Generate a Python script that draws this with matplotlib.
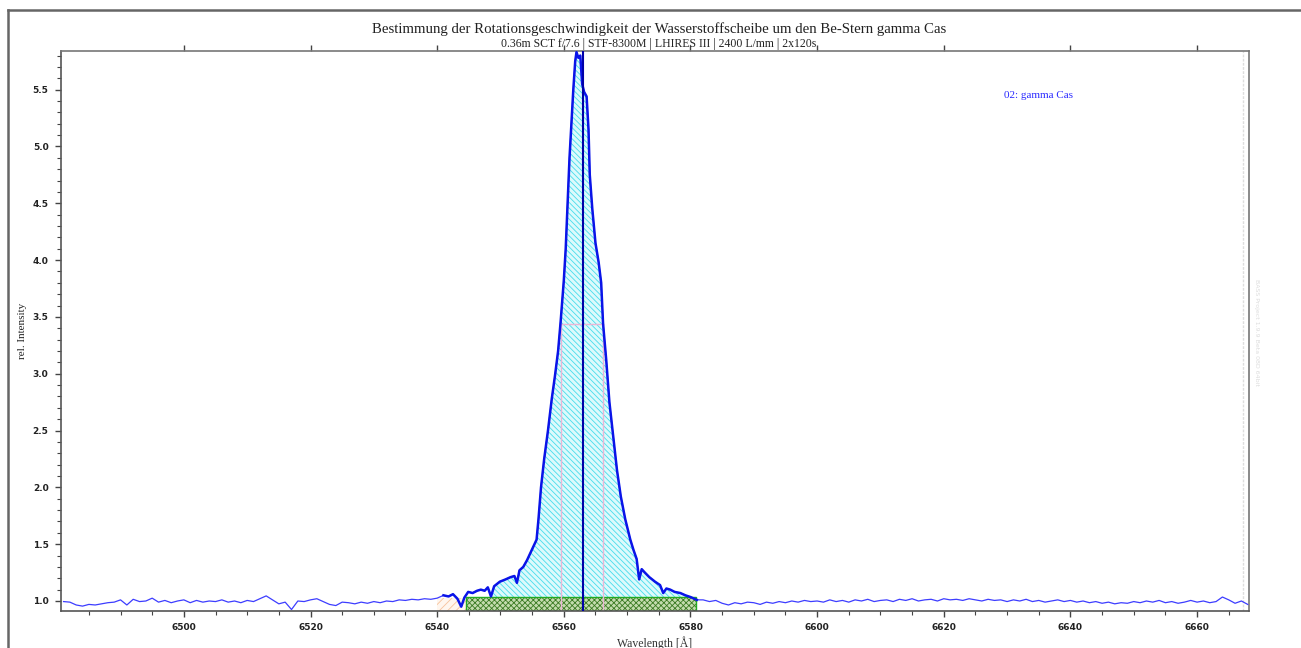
import numpy as np
import matplotlib
matplotlib.use("Agg")
import matplotlib.pyplot as plt
from matplotlib.patches import Rectangle
from matplotlib.lines import Line2D
from matplotlib.ticker import MultipleLocator, FormatStrFormatter

plt.rcParams['hatch.linewidth'] = 0.6

# continuum left of the line, 1 A steps starting at 6481
cont_left_start = 6481
cont_left = [0.995, 0.99, 0.965, 0.955, 0.97, 0.965, 0.975, 0.985, 0.99, 1.01,
             0.965, 1.015, 0.995, 1.0, 1.025, 0.99, 1.005, 0.985, 1.0, 1.01,
             0.985, 1.005, 0.99, 1.0, 0.995, 1.01, 0.99, 1.0, 0.985, 1.005,
             0.995, 1.02, 1.045, 1.01, 0.975, 0.99, 0.925, 1.0, 0.995, 1.01,
             1.02, 0.995, 0.97, 0.96, 0.99, 0.985, 0.975, 0.99, 0.98, 0.995,
             0.985, 1.0, 0.995, 1.01, 1.005, 1.015, 1.01, 1.02, 1.015, 1.025]

# H-alpha emission line region
line_wl = [6541.0, 6541.8, 6542.5, 6543.2, 6543.8, 6544.3, 6544.9, 6545.6, 6546.3, 6546.9,
           6547.5, 6548.0, 6548.5, 6549.0, 6549.9, 6550.8, 6551.6, 6552.2, 6552.6, 6553.0,
           6553.6, 6554.2, 6554.7, 6555.2, 6555.7, 6556.0, 6556.4, 6556.9, 6557.5, 6558.1,
           6558.6, 6559.1, 6559.5, 6560.0, 6560.3, 6560.6, 6560.9, 6561.2, 6561.5, 6561.8,
           6562.0, 6562.3, 6562.6, 6562.9, 6563.2, 6563.6, 6563.9, 6564.1, 6564.5, 6565.0,
           6565.5, 6565.9, 6566.2, 6566.7, 6567.2, 6567.8, 6568.4, 6569.0, 6569.7, 6570.5,
           6571.0, 6571.5, 6571.9, 6572.3, 6572.8, 6573.5, 6574.4, 6575.2, 6575.7, 6576.2,
           6576.8, 6577.5, 6578.4, 6579.2, 6580.0, 6580.6, 6581.0]
line_flux = [1.05, 1.04, 1.06, 1.02, 0.95, 1.03, 1.08, 1.07, 1.09, 1.10,
             1.09, 1.12, 1.04, 1.13, 1.17, 1.19, 1.21, 1.22, 1.16, 1.27,
             1.30, 1.36, 1.42, 1.48, 1.54, 1.72, 2.00, 2.25, 2.50, 2.78,
             2.98, 3.20, 3.46, 3.82, 4.10, 4.50, 4.90, 5.20, 5.50, 5.75,
             5.83, 5.78, 5.80, 5.55, 5.48, 5.44, 5.15, 4.75, 4.45, 4.15,
             3.98, 3.80, 3.44, 3.12, 2.75, 2.45, 2.15, 1.92, 1.72, 1.54,
             1.45, 1.37, 1.19, 1.28, 1.25, 1.21, 1.17, 1.14, 1.07, 1.11,
             1.10, 1.08, 1.07, 1.05, 1.035, 1.02, 1.01]

# continuum right of the line, 1 A steps starting at 6582
cont_right_start = 6582
cont_right = [1.01, 0.995, 1.005, 0.98, 0.965, 0.985, 0.975, 0.99, 0.985, 0.97,
              0.99, 0.98, 0.995, 0.985, 1.0, 0.99, 1.005, 0.995, 1.0, 0.99,
              1.01, 0.995, 1.005, 0.99, 1.01, 1.0, 1.015, 0.995, 1.005, 1.01,
              0.995, 1.015, 1.005, 1.02, 1.0, 1.01, 1.015, 1.0, 1.02, 1.01,
              1.015, 1.005, 1.02, 1.01, 1.0, 1.015, 1.005, 1.01, 0.995, 1.01,
              1.0, 1.015, 0.995, 1.005, 0.99, 1.0, 1.01, 0.995, 1.005, 0.99,
              1.0, 0.985, 0.995, 0.98, 0.99, 0.975, 0.985, 0.98, 0.995, 0.985,
              1.0, 0.99, 1.005, 0.985, 0.995, 0.98, 0.99, 1.005, 0.99, 1.0,
              0.985, 0.995, 1.035, 1.01, 0.98, 1.0, 0.97]

# measurement ranges
line_center = 6563.0
fwhm_left, fwhm_right, half_max = 6559.5, 6566.2, 3.44
fill_range = (6548.5, 6580.4)
cont_box = (6544.6, 6580.8, 1.035)
cont_box_left = (6540.0, 6544.6, 1.03)

xmin, xmax = 6480.6, 6668.2
ymin, ymax = 0.912, 5.84

wl_left = cont_left_start + np.arange(len(cont_left))
wl_right = cont_right_start + np.arange(len(cont_right))
wl = np.concatenate([wl_left, line_wl, wl_right])
flux = np.concatenate([cont_left, line_flux, cont_right])

W, H = 1301, 648
fig = plt.figure(figsize=(W / 100, H / 100), dpi=100)
ax = fig.add_axes([61 / W, 1 - 611 / H, (1249 - 61) / W, (611 - 51) / H])

# cyan hatched integration area
lw_arr = np.array(line_wl)
lf_arr = np.array(line_flux)
m = (lw_arr >= fill_range[0]) & (lw_arr <= fill_range[1])
ax.fill_between(lw_arr[m], lf_arr[m], cont_box[2], facecolor='#dcfafc',
                edgecolor='#46dcec', hatch='\\\\\\\\\\\\', linewidth=0, zorder=1)

# continuum boxes
ax.add_patch(Rectangle((cont_box_left[0], ymin), cont_box_left[1] - cont_box_left[0],
                       cont_box_left[2] - ymin, facecolor='#fff6ee', edgecolor='#f6c29c',
                       hatch='////', linewidth=0, zorder=1))
ax.add_patch(Rectangle((cont_box[0], ymin), cont_box[1] - cont_box[0], cont_box[2] - ymin,
                       facecolor='#c4dcae', edgecolor='#3a7a22', hatch='xxxxxx',
                       linewidth=0, zorder=1))
ax.add_patch(Rectangle((cont_box[0], ymin), cont_box[1] - cont_box[0], cont_box[2] - ymin,
                       facecolor='none', edgecolor='#22aa22', linewidth=1, zorder=2))

# FWHM lines
pink = '#eab6d6'
ax.plot([fwhm_left, fwhm_left], [ymin, half_max], color=pink, lw=1, zorder=2)
ax.plot([fwhm_right, fwhm_right], [ymin, half_max], color=pink, lw=1, zorder=2)
ax.plot([fwhm_left, fwhm_right], [half_max, half_max], color=pink, lw=1, zorder=2)

# spectrum
ax.plot(wl, flux, color='#3d3dff', lw=0.9, zorder=3)
ax.plot(line_wl, line_flux, color='#0a14e8', lw=1.8, zorder=4)
ax.axvline(line_center, color='#0000a8', lw=1.5, zorder=5)

# faint marker line near right edge
ax.axvline(6667.2, color='#dddddd', lw=1, ls=(0, (2, 1)), zorder=0)

ax.set_xlim(xmin, xmax)
ax.set_ylim(ymin, ymax)

ax.xaxis.set_major_locator(MultipleLocator(20))
ax.xaxis.set_minor_locator(MultipleLocator(5))
ax.yaxis.set_major_locator(MultipleLocator(0.5))
ax.yaxis.set_minor_locator(MultipleLocator(0.1))
ax.yaxis.set_major_formatter(FormatStrFormatter('%.1f'))
ax.tick_params(axis='both', which='major', direction='out', length=4, width=1,
               color='#444444', labelsize=6.5, pad=5)
ax.tick_params(axis='both', which='minor', direction='out', length=3, width=0.8,
               color='#444444')
ax.tick_params(axis='x', which='major', top=True)
for lab in ax.get_xticklabels() + ax.get_yticklabels():
    lab.set_fontweight('bold')
    lab.set_color('#222222')

for s in ['left', 'bottom']:
    ax.spines[s].set_color('#555555')
    ax.spines[s].set_linewidth(1.2)
for s in ['top', 'right']:
    ax.spines[s].set_color('#777777')
    ax.spines[s].set_linewidth(1.2)

serif = 'Liberation Serif'
ax.set_xlabel('Wavelength [Å]', fontfamily=serif, fontsize=8.5, color='#333333', labelpad=3)
ax.set_ylabel('rel. Intensity', fontfamily=serif, fontsize=8, color='#222222')
ax.yaxis.set_label_coords((27 - 61) / (1249 - 61), 0.5)

fig.text(659 / W, 1 - 29 / H, 'Bestimmung der Rotationsgeschwindigkeit der Wasserstoffscheibe um den Be-Stern gamma Cas',
         ha='center', va='center', fontfamily=serif, fontsize=10.7, color='#222222')
fig.text(659 / W, 1 - 44 / H, '0.36m SCT f/7.6 | STF-8300M | LHIRES III | 2400 L/mm | 2x120s',
         ha='center', va='center', fontfamily=serif, fontsize=8.5, color='#222222')
ax.text(1038 / W, 1 - 95 / H, '02: gamma Cas', transform=fig.transFigure, ha='center',
        va='center', fontfamily=serif, fontsize=8, color='#2a2aff')
fig.text(1256 / W, 1 - 332 / H, 'BASS Project 1.9.9 Beta 08D 64bit', rotation=-90,
         ha='center', va='center', fontsize=4.5, color='#dddddd')

# outer frame
fig.add_artist(Line2D([8 / W, 8 / W], [0, 1 - 10 / H], transform=fig.transFigure,
                      color='#666666', lw=1.8))
fig.add_artist(Line2D([8 / W, 1], [1 - 10 / H, 1 - 10 / H], transform=fig.transFigure,
                      color='#666666', lw=1.8))

fig.savefig('out.png', dpi=100)
